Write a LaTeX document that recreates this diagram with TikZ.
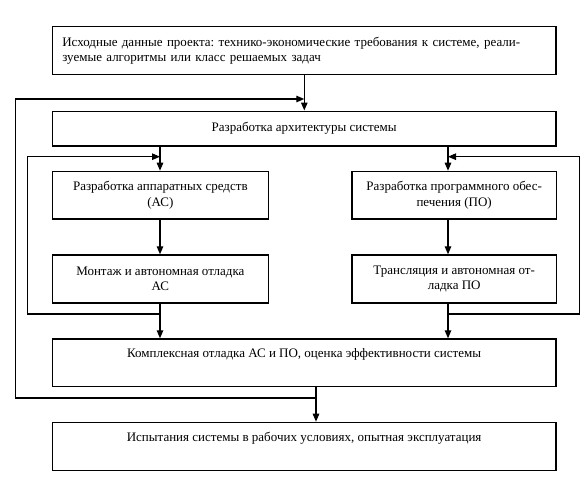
\documentclass[tikz,border=0pt]{standalone}
\usepackage{fontspec}
\setmainfont{Liberation Serif}
\frenchspacing
\usetikzlibrary{arrows.meta,calc}
\tikzset{
  box/.style={draw=black, line width=1.3pt, fill=white, inner sep=0pt, align=center,
    font=\fontsize{13}{15.5}\selectfont},
  link/.style={draw=black, line width=1.3pt},
  arr/.style={link, -{Triangle[length=8pt,width=6.5pt]}}
}
\begin{document}
\begin{tikzpicture}[x=1pt,y=-1pt]
\useasboundingbox[fill=white] (0,0) rectangle (588,479);
% main boxes
\node[box, minimum width=503.6pt, minimum height=48.3pt, align=left, anchor=north west,
  text width=483.6pt, inner xsep=10pt] (top) at (51.7,25.7)
  {Исходные данные проекта: технико-экономические требования к системе, реали-\\зуемые алгоритмы или класс решаемых задач};
\node[box, minimum width=503.6pt, minimum height=34.8pt, anchor=north west] (arch) at (51.7,110.5)
  {Разработка архитектуры системы};
\node[box, minimum width=216pt, minimum height=47.6pt, anchor=north west] (l1) at (51.7,170.7)
  {Разработка аппаратных средств\\(АС)};
\node[box, minimum width=216pt, minimum height=48pt, anchor=north west] (l2) at (51.7,254.3)
  {Монтаж и автономная отладка\\АС};
\node[box, minimum width=204.4pt, minimum height=47.6pt, anchor=north west] (r1) at (351.3,170.7)
  {Разработка программного обес-\\печения (ПО)};
\node[box, minimum width=204.4pt, minimum height=48pt, anchor=north west] (r2) at (351.3,254.3)
  {Трансляция и автономная от-\\ладка ПО};
\node[box, minimum width=503.6pt, minimum height=47.4pt, anchor=north west] (komp) at (51.7,338.3)
  {Комплексная отладка АС и ПО, оценка эффективности системы\\\strut};
\node[box, minimum width=503.6pt, minimum height=48.3pt, anchor=north west] (test) at (51.7,421.7)
  {Испытания системы в рабочих условиях, опытная эксплуатация\\\strut};
% helper coordinates
\coordinate (cx) at (304.3,0);
\coordinate (lx) at (160,0);
\coordinate (rx) at (448,0);
\coordinate (kx) at (316,0);
\coordinate (outer) at (15.7,398);
\coordinate (outerTop) at (15.7,99);
\coordinate (lloop) at (27.3,314);
\coordinate (lloopTop) at (27.3,156.7);
\coordinate (rloop) at (579.7,314);
\coordinate (rloopTop) at (579.7,156.7);
% straight arrows
\draw[arr] (top.south -| cx) -- (arch.north -| cx);
\draw[arr] (arch.south -| lx) -- (l1.north -| lx);
\draw[arr] (arch.south -| rx) -- (r1.north -| rx);
\draw[arr] (l1.south -| lx) -- (l2.north -| lx);
\draw[arr] (r1.south -| rx) -- (r2.north -| rx);
\draw[arr] (l2.south -| lx) -- (komp.north -| lx);
\draw[arr] (r2.south -| rx) -- (komp.north -| rx);
\draw[arr] (komp.south -| kx) -- (test.north -| kx);
% feedback loops
\draw[arr] (outer -| kx) -- (outer) -- (outerTop) -- (outerTop -| cx);
\draw[arr] (lloop -| lx) -- (lloop) -- (lloopTop) -- (lloopTop -| lx);
\draw[arr] (rloop -| rx) -- (rloop) -- (rloopTop) -- (rloopTop -| rx);
\end{tikzpicture}
\end{document}
